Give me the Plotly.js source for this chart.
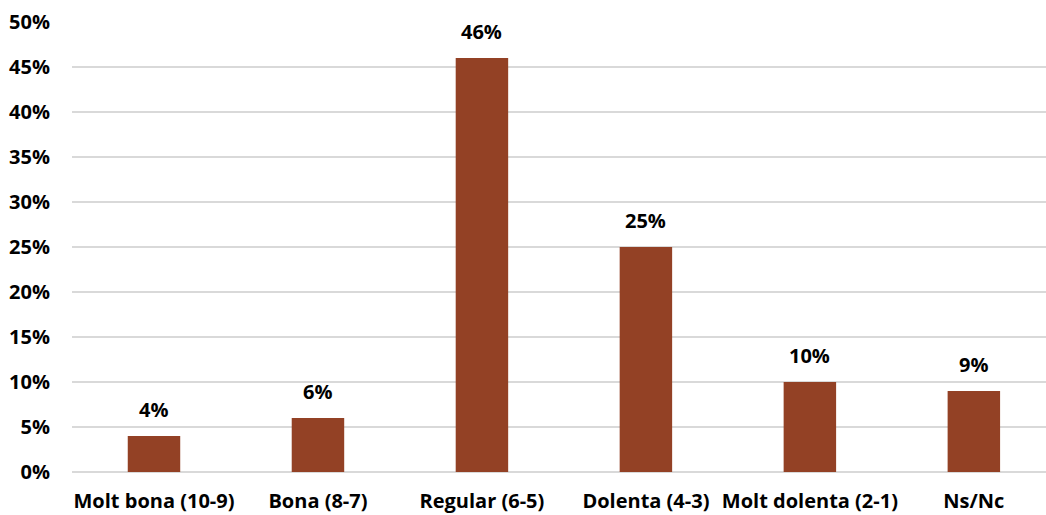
<!DOCTYPE html>
<html>
<head>
<meta charset="utf-8">
<script src="https://cdn.plot.ly/plotly-3.0.1.min.js"></script>
<style>html,body{margin:0;padding:0;background:#fff;}#chart{width:1046px;height:515px;}</style>
</head>
<body>
<div id="chart"></div>
<script>
const categories = ["Molt bona (10-9)", "Bona (8-7)", "Regular (6-5)", "Dolenta (4-3)", "Molt dolenta (2-1)", "Ns/Nc"];
const values = [4, 6, 46, 25, 10, 9];
const labels = ["4%", "6%", "46%", "25%", "10%", "9%"];
const yTicks = [0, 5, 10, 15, 20, 25, 30, 35, 40, 45, 50];
const yTickText = ["0%", "5%", "10%", "15%", "20%", "25%", "30%", "35%", "40%", "45%", "50%"];

const FONT = "'Open Sans', sans-serif";

const trace = {
  type: "bar",
  x: categories,
  y: values,
  marker: {color: "#934125"},
  width: 0.32,
  hoverinfo: "none"
};

const annotations = categories.map((c, i) => ({
  x: c, y: values[i], text: "<b>" + labels[i] + "</b>",
  showarrow: false, yanchor: "bottom", yshift: 11,
  font: {family: FONT, size: 20, color: "#000"}
}));

const layout = {
  width: 1046, height: 515,
  margin: {l: 72, r: 0, t: 22, b: 43},
  paper_bgcolor: "#fff", plot_bgcolor: "#fff",
  showlegend: false,
  xaxis: {
    type: "category",
    range: [-0.5, 5.44],
    showgrid: false, zeroline: false, showline: false,
    ticks: "", ticklabelstandoff: 15,
    tickfont: {family: FONT, size: 20, color: "#000", weight: "bold"}
  },
  yaxis: {
    range: [0, 50],
    tickvals: yTicks, ticktext: yTickText,
    showgrid: true, gridcolor: "#d9d9d9", gridwidth: 1.3,
    zeroline: true, zerolinecolor: "#d9d9d9", zerolinewidth: 1.3,
    showline: false, ticks: "", ticklabelstandoff: 21,
    tickfont: {family: FONT, size: 20, color: "#000", weight: "bold"}
  },
  annotations: annotations
};

Plotly.newPlot("chart", [trace], layout, {displayModeBar: false, staticPlot: true});
</script>
</body>
</html>
